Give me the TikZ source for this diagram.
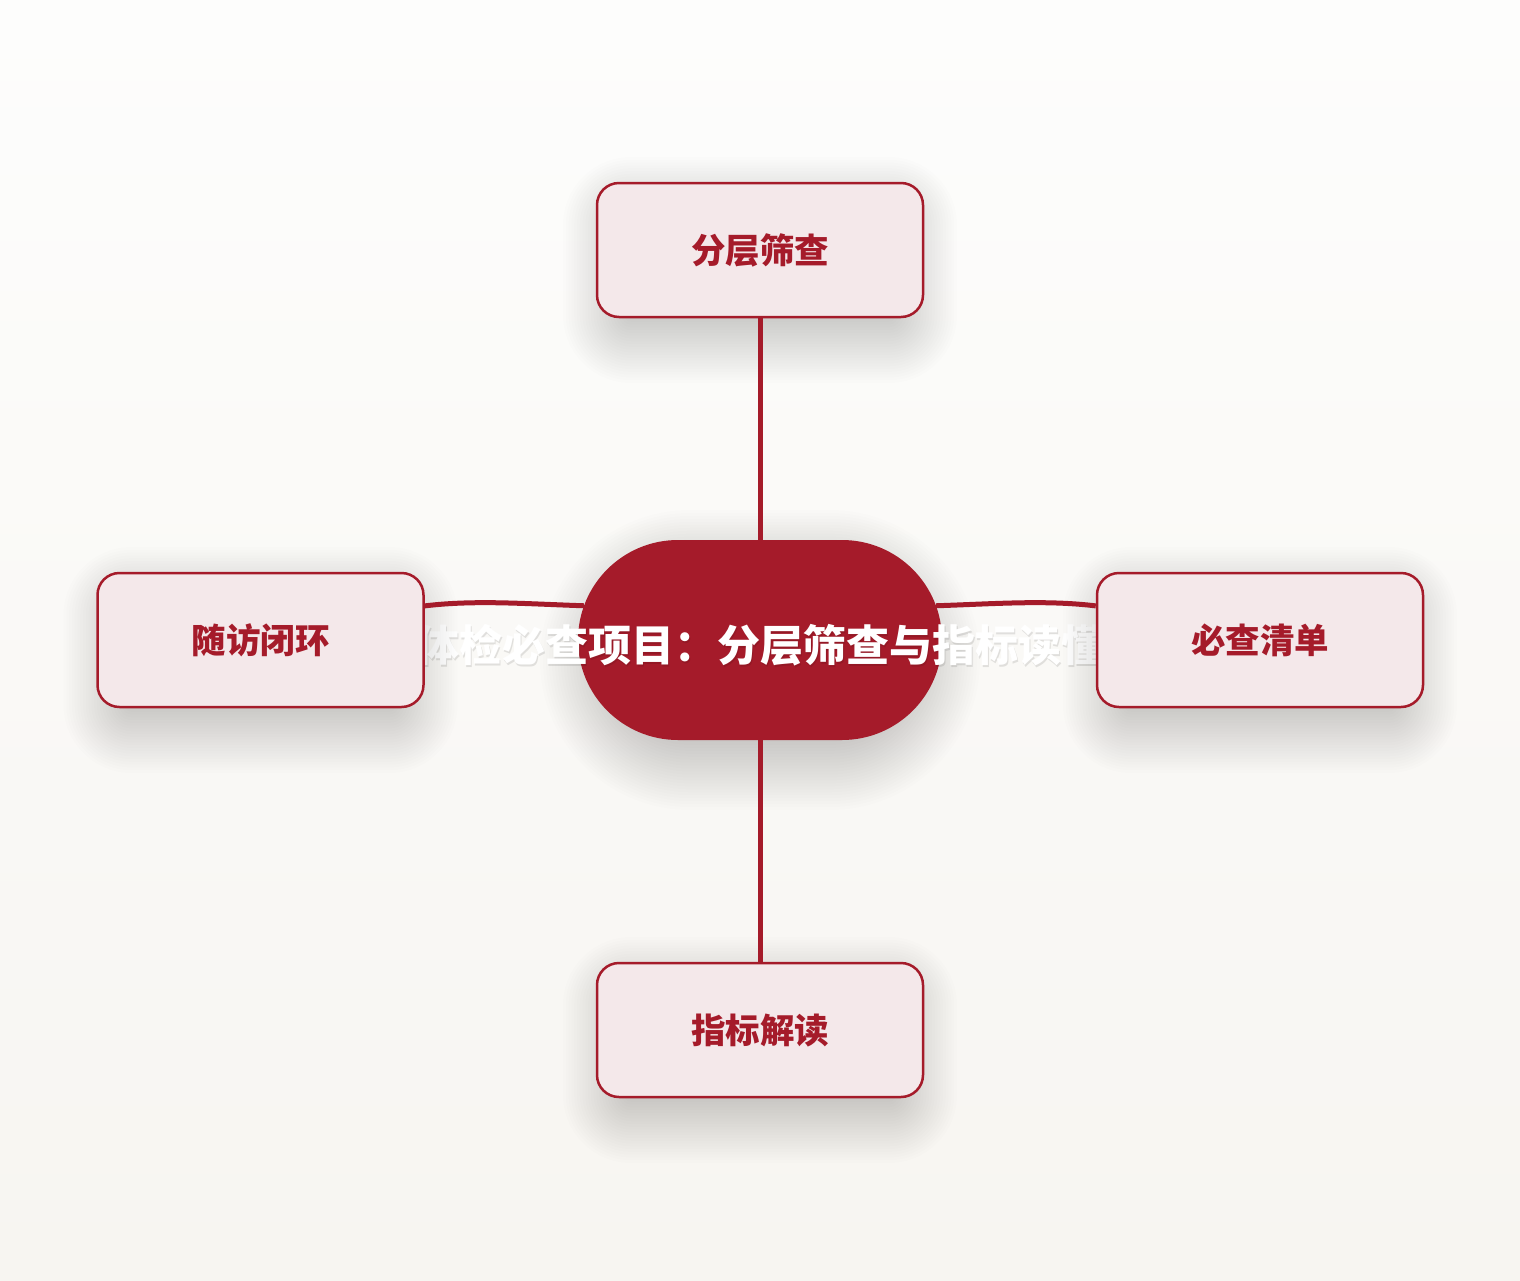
\documentclass[tikz,border=0pt]{standalone}
\usepackage{fontspec}
\newfontfamily\cjk{Noto Sans CJK SC}
\usetikzlibrary{shapes.misc,calc}
\definecolor{brand}{HTML}{A51B2A}
\definecolor{leaffill}{HTML}{F4E8EA}
\definecolor{bgtop}{HTML}{FDFDFC}
\definecolor{bgbot}{HTML}{F7F5F1}
\tikzset{
  leafbox/.style={rectangle, rounded corners=22pt, minimum width=326pt, minimum height=134pt,
    draw=brand, line width=2.5pt, fill=leaffill, text=brand, inner sep=0pt,
    font=\cjk\bfseries\fontsize{34.5}{40}\selectfont},
  hub/.style={rounded rectangle, minimum width=364pt, minimum height=200pt, fill=brand, draw=none,
    inner sep=0pt},
  titletext/.style={text=white, inner sep=0pt, font=\cjk\bfseries\fontsize{43}{50}\selectfont},
  titleshadow/.style={text=black, opacity=0.10, inner sep=0pt, font=\cjk\bfseries\fontsize{43}{50}\selectfont},
  link/.style={draw=brand, line width=5pt},
  shadowlayer/.style={fill=black, opacity=#1},
  shadowlayer/.default=0.008
}
% soft shadow: #1 centre, #2 base width, #3 base height, #4 base corner radius,
% #5 inward reach, #6 outward reach, #7 opacity per layer
\newcommand\softshadow[7]{%
  \foreach \i in {0,...,23}{%
    \pgfmathsetmacro\ee{#6-(#5+#6)*\i/23}%
    \pgfmathsetmacro\rr{max(#4+\ee,1)}%
    \fill[shadowlayer=#7, rounded corners=\rr pt]
      ($(#1)+({-#2/2-\ee},{-#3/2-\ee+20})$) rectangle ($(#1)+({#2/2+\ee},{#3/2+\ee+20})$);
  }}
\begin{document}
\begin{tikzpicture}[x=1pt,y=-1pt]
\shade[top color=bgtop, bottom color=bgbot] (0,0) rectangle (1520,1280);
\useasboundingbox (0,0) rectangle (1520,1280);
\coordinate (chub) at (760,640);
\coordinate (ctop) at (760,250);
\coordinate (cleft) at (260.5,640);
\coordinate (cright) at (1260,640);
\coordinate (cbottom) at (760,1030);
\softshadow{chub}{340}{200}{100}{18}{50}{0.0078}
\node[hub] (hub) at (chub) {};
\node[titleshadow] (tshadow) at (761.5,647) {体检必查项目：分层筛查与指标读懂};
\node[titletext] (title) at (760,645) {体检必查项目：分层筛查与指标读懂};
\softshadow{ctop}{302}{134}{22}{18}{46}{0.0063}
\softshadow{cleft}{302}{134}{22}{18}{46}{0.0063}
\softshadow{cright}{302}{134}{22}{18}{46}{0.0063}
\softshadow{cbottom}{302}{134}{22}{18}{46}{0.0063}
\node[leafbox] (top) at (ctop) {分层筛查};
\node[leafbox] (left) at (cleft) {随访闭环};
\node[leafbox] (right) at (cright) {必查清单};
\node[leafbox] (bottom) at (cbottom) {指标解读};
\coordinate (leftend) at ($(left.north east)!0.25!(left.south east)$);
\coordinate (rightend) at ($(right.north west)!0.25!(right.south west)$);
\draw[link] (top.south) .. controls +(0,110) and +(0,-110) .. (hub.north);
\draw[link] (hub.south) .. controls +(0,110) and +(0,-110) .. (bottom.north);
\draw[link] (leftend) .. controls +(50,-6) and +(-60,-2) .. (hub.169);
\draw[link] (hub.11) .. controls +(60,-2) and +(-50,-6) .. (rightend);
\end{tikzpicture}
\end{document}
